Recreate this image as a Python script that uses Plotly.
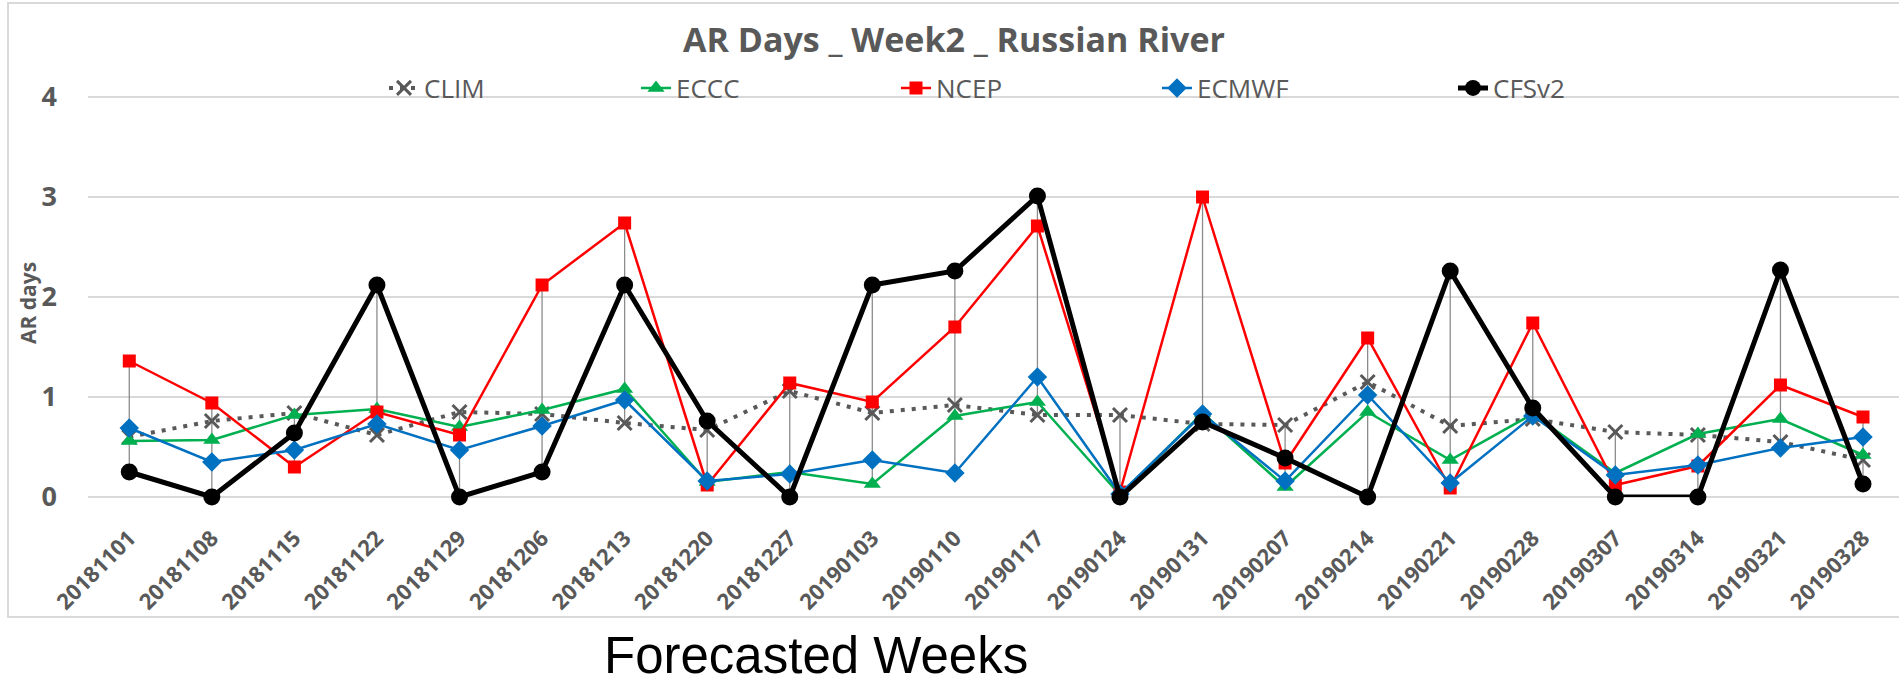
import plotly.graph_objects as go

weeks = ["20181101", "20181108", "20181115", "20181122", "20181129", "20181206",
         "20181213", "20181220", "20181227", "20190103", "20190110", "20190117",
         "20190124", "20190131", "20190207", "20190214", "20190221", "20190228",
         "20190307", "20190314", "20190321", "20190328"]

clim = [0.60, 0.76, 0.84, 0.62, 0.85, 0.83, 0.74, 0.67, 1.06, 0.84, 0.92, 0.82,
        0.82, 0.73, 0.72, 1.15, 0.71, 0.78, 0.65, 0.62, 0.55, 0.37]
eccc = [0.56, 0.57, 0.82, 0.88, 0.70, 0.87, 1.08, 0.15, 0.25, 0.13, 0.81, 0.95,
        0.02, 0.84, 0.10, 0.85, 0.37, 0.83, 0.24, 0.63, 0.78, 0.42]
ncep = [1.36, 0.94, 0.30, 0.85, 0.62, 2.12, 2.74, 0.12, 1.14, 0.95, 1.70, 2.71,
        0.05, 3.00, 0.34, 1.59, 0.09, 1.74, 0.12, 0.31, 1.12, 0.80]
ecmwf = [0.69, 0.35, 0.47, 0.73, 0.47, 0.71, 0.97, 0.16, 0.23, 0.37, 0.24, 1.20,
         0.03, 0.83, 0.16, 1.02, 0.14, 0.81, 0.22, 0.32, 0.49, 0.60]
cfsv2 = [0.25, 0.00, 0.64, 2.12, 0.00, 0.25, 2.12, 0.76, 0.00, 2.12, 2.26, 3.01,
         0.00, 0.75, 0.39, 0.00, 2.26, 0.89, 0.00, 0.00, 2.27, 0.13]

series_names = ["CLIM", "ECCC", "NCEP", "ECMWF", "CFSv2"]
y_ticks = [0, 1, 2, 3, 4]

title_text = "AR Days _ Week2 _ Russian River"
y_title = "AR days"
x_title = "Forecasted Weeks"

GRAY = "#595959"
W, H = 1899, 686
L, T = 88, 95            # plot-area left / top in px
PW, PH = 1811, 402       # plot-area width / height in px
Y_TOP = 4.02

def px_x(p):
    return (p - L) / PW

def px_y(p):
    return (T + PH - p) / PH

fig = go.Figure()

# high-low lines (range across all series at each week)
all_series = [clim, eccc, ncep, ecmwf, cfsv2]
hx, hy = [], []
for i, w in enumerate(weeks):
    vals = [s[i] for s in all_series]
    hx += [w, w, None]
    hy += [min(vals), max(vals), None]
fig.add_trace(go.Scatter(x=hx, y=hy, mode="lines", showlegend=False,
                         line=dict(color="#8c8c8c", width=1.3),
                         hoverinfo="skip", cliponaxis=False))

styles = [
    dict(name="CLIM", y=clim, line=dict(color=GRAY, width=4, dash="4px,7px"),
         marker=dict(symbol="x-thin", size=14, color=GRAY,
                     line=dict(color=GRAY, width=3))),
    dict(name="ECCC", y=eccc, line=dict(color="#00B050", width=2.5),
         marker=dict(symbol="triangle-up", size=15, color="#00B050")),
    dict(name="NCEP", y=ncep, line=dict(color="#FF0000", width=2.5),
         marker=dict(symbol="square", size=13, color="#FF0000")),
    dict(name="ECMWF", y=ecmwf, line=dict(color="#0070C0", width=2.5),
         marker=dict(symbol="diamond", size=15, color="#0070C0")),
    dict(name="CFSv2", y=cfsv2, line=dict(color="#000000", width=5),
         marker=dict(symbol="circle", size=17, color="#000000")),
]

legend_text_start = [424, 676, 936, 1197, 1493]
legend_keys = ["legend", "legend2", "legend3", "legend4", "legend5"]

for st, key in zip(styles, legend_keys):
    fig.add_trace(go.Scatter(x=weeks, y=st["y"], name=st["name"],
                             mode="lines+markers", line=st["line"],
                             marker=st["marker"], cliponaxis=False,
                             legend=key))

legend_common = dict(orientation="h", yanchor="middle", xanchor="left",
                     bgcolor="rgba(0,0,0,0)", borderwidth=0,
                     font=dict(family="Open Sans", size=26, color=GRAY))
layout_legends = {}
for key, ts in zip(legend_keys, legend_text_start):
    layout_legends[key] = dict(legend_common, x=px_x(ts - 40), y=px_y(88))

fig.update_layout(
    width=W, height=H,
    margin=dict(l=L, r=W - L - PW, t=T, b=H - T - PH, autoexpand=False),
    paper_bgcolor="white", plot_bgcolor="white",
    title=dict(text=title_text, x=954 / W, y=1 - 40 / H, xanchor="center",
               yanchor="middle",
               font=dict(family="Open Sans", size=34, color=GRAY, weight="bold")),
    **layout_legends,
    xaxis=dict(type="category", range=[-0.5, 21.436], showgrid=False,
               zeroline=False, showline=False, ticks="", tickangle=-45,
               ticklabelstandoff=23,
               tickfont=dict(family="Open Sans", size=22, color=GRAY,
                             weight="bold")),
    yaxis=dict(range=[0, Y_TOP], tickvals=y_ticks, showgrid=True,
               gridcolor="#d9d9d9", gridwidth=2, zeroline=True,
               zerolinecolor="#d9d9d9", zerolinewidth=2, showline=False,
               ticks="", ticklabelstandoff=30,
               tickfont=dict(family="Open Sans", size=27, color=GRAY,
                             weight="bold")),
    showlegend=True,
)

fig.add_annotation(text=y_title, xref="paper", yref="paper",
                   x=px_x(28), y=px_y(303), textangle=-90, showarrow=False,
                   xanchor="center", yanchor="middle",
                   font=dict(family="Open Sans", size=21, color=GRAY,
                             weight="bold"))
fig.add_annotation(text=x_title, xref="paper", yref="paper",
                   x=px_x(816), y=px_y(686), showarrow=False,
                   xanchor="center", yanchor="bottom",
                   font=dict(family="Liberation Sans", size=51, color="black"))

fig.add_shape(type="rect", xref="paper", yref="paper",
              x0=px_x(8), x1=px_x(1920), y0=px_y(617), y1=px_y(3),
              line=dict(color="#d9d9d9", width=2), layer="below")

fig.write_html("out.html",
               config={"displayModeBar": False},
               post_script="document.body.style.margin='0px';"
                           "document.body.style.overflow='hidden';")
